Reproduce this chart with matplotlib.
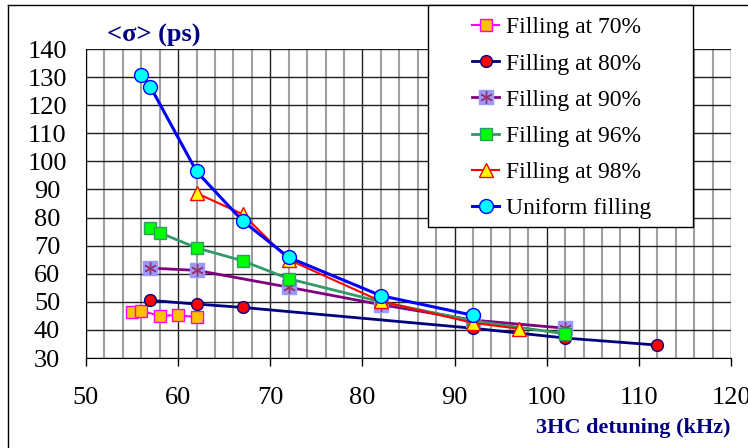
import matplotlib.pyplot as plt
from matplotlib.lines import Line2D
from matplotlib.patches import Rectangle
from matplotlib.legend_handler import HandlerTuple

plt.rcParams['font.family'] = ['Liberation Serif', 'DejaVu Serif']

# sigma vs 3HC detuning for each filling pattern
x70 = [55, 56, 58, 60, 62]
y70 = [46.5, 46.8, 45.0, 45.3, 44.5]
x80 = [57, 62, 67, 92, 102, 112]
y80 = [50.5, 49.2, 48.0, 40.6, 37.1, 34.6]
x90 = [57, 62, 72, 82, 92, 102]
y90 = [62.0, 61.2, 55.2, 49.0, 43.5, 40.6]
x96 = [57, 58, 62, 67, 72, 82, 92, 102]
y96 = [76.4, 74.6, 69.2, 64.6, 58.2, 50.0, 43.2, 38.6]
x98 = [62, 67, 72, 82, 92, 97]
y98 = [88.7, 81.2, 65.0, 50.2, 42.5, 40.4]
xu = [56, 57, 62, 67, 72, 82, 92]
yu = [130.7, 126.5, 96.4, 78.8, 65.8, 52.2, 45.2]

fig = plt.figure(figsize=(7.48, 4.48), dpi=100)
ax = fig.add_axes([86/748, 1-358/448, 645/748, 309/448])

l70, = ax.plot(x70, y70, '-s', color='#ff00ff', lw=1.5, ms=8,
               mfc='#ffc000', mec='#ff00ff', mew=1)
l80, = ax.plot(x80, y80, '-o', color='#000080', lw=2, ms=8.5,
               mfc='#ff0000', mec='#000080', mew=1)
l90a, = ax.plot(x90, y90, '-s', color='#800080', lw=2, ms=10,
                mfc='#9999ff', mec='#9999ff')
l90b, = ax.plot(x90, y90, ls='none', marker=(6, 2, 0), ms=9,
                mec='#993366', mew=1)
l96, = ax.plot(x96, y96, '-s', color='#339966', lw=2, ms=8.5,
               mfc='#00ff00', mec='#339966', mew=1)
l98, = ax.plot(x98, y98, '-^', color='#ff0000', lw=1.5, ms=10,
               mfc='#ffff00', mec='#ff0000', mew=1)
lu, = ax.plot(xu, yu, '-o', color='#0000ff', lw=2.2, ms=10,
              mfc='#00ffff', mec='#0000ff', mew=1)

ax.set_xlim(50, 120)
ax.set_ylim(30, 140)
ax.set_xticks(range(50, 121, 10))
ax.set_xticks(range(50, 121, 2), minor=True)
ax.set_yticks(range(30, 141, 10))
ax.grid(which='minor', axis='x', color='#a0a0a0', lw=1.5)
ax.grid(which='major', axis='x', color='#202020', lw=1)
ax.grid(which='major', axis='y', color='#202020', lw=1)
ax.set_axisbelow(True)
ax.tick_params(axis='x', which='major', direction='out', length=6, width=1,
               pad=15, labelsize=19)
ax.tick_params(axis='x', which='minor', length=0)
ax.tick_params(axis='y', length=0, pad=28, labelsize=19)
for lab in ax.get_yticklabels():
    lab.set_horizontalalignment('center')
for s in ['top', 'right']:
    ax.spines[s].set_visible(False)

fig.text(107/748, 1-35/448, '<σ> (ps)', color='#000080', fontweight='bold',
         fontsize=19, va='center', ha='left')
fig.text(731/748, 1-428/448, '3HC detuning (kHz)', color='#000080',
         fontweight='bold', fontsize=16, va='center', ha='right')

# outer chart frame
fig.add_artist(Line2D([7.5/748, 7.5/748], [0, 1-5/448], color='black', lw=1))
fig.add_artist(Line2D([7.5/748, 1], [1-5/448, 1-5/448], color='black', lw=1))

# legend box
fig.add_artist(Rectangle((428/748, 1-227/448), 265/748, 222/448,
                         transform=fig.transFigure, fc='white', ec='black',
                         lw=1, zorder=3))
leg = fig.legend([l70, l80, (l90a, l90b), l96, l98, lu],
                 ['Filling at 70%', 'Filling at 80%', 'Filling at 90%',
                  'Filling at 96%', 'Filling at 98%', 'Uniform filling'],
                 handler_map={tuple: HandlerTuple(ndivide=1, pad=0)},
                 loc='center', bbox_to_anchor=(562/748, 1-118/448),
                 fontsize=17, frameon=False, borderaxespad=0, borderpad=0,
                 handlelength=1.15, labelspacing=0.62, handletextpad=0.3)
leg.set_zorder(4)

plt.savefig('out.png', dpi=100)
